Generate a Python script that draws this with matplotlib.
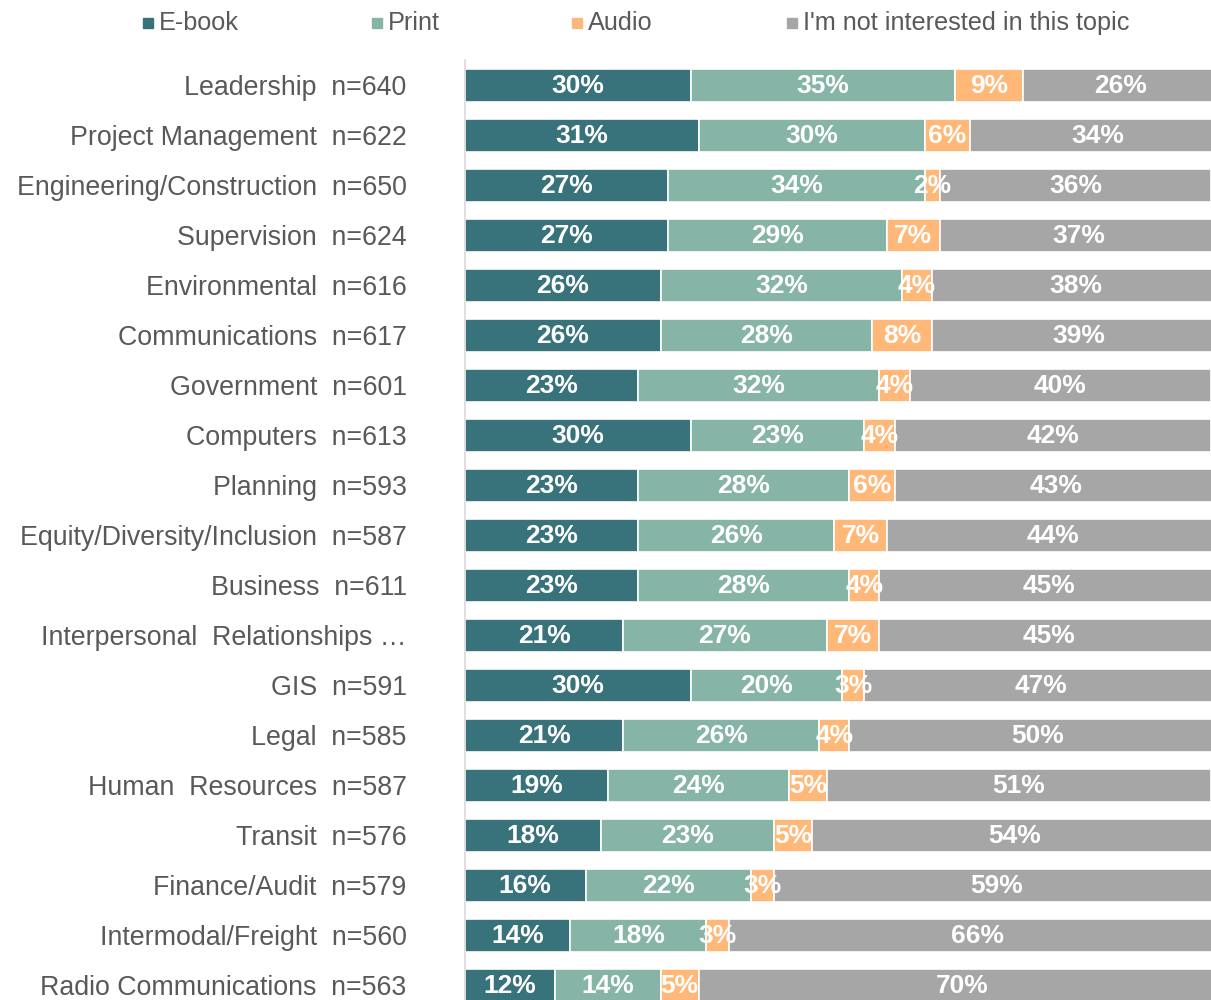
import matplotlib.pyplot as plt
from matplotlib.patches import Rectangle
import numpy as np

plt.rcParams['font.family'] = ['Liberation Sans', 'DejaVu Sans']

topics = ['Leadership  n=640', 'Project Management  n=622',
          'Engineering/Construction  n=650', 'Supervision  n=624',
          'Environmental  n=616', 'Communications  n=617',
          'Government  n=601', 'Computers  n=613', 'Planning  n=593',
          'Equity/Diversity/Inclusion  n=587', 'Business  n=611',
          'Interpersonal  Relationships …', 'GIS  n=591', 'Legal  n=585',
          'Human  Resources  n=587', 'Transit  n=576', 'Finance/Audit  n=579',
          'Intermodal/Freight  n=560', 'Radio Communications  n=563']

ebook = [30, 31, 27, 27, 26, 26, 23, 30, 23, 23, 23, 21, 30, 21, 19, 18, 16, 14, 12]
prnt = [35, 30, 34, 29, 32, 28, 32, 23, 28, 26, 28, 27, 20, 26, 24, 23, 22, 18, 14]
audio = [9, 6, 2, 7, 4, 8, 4, 4, 6, 7, 4, 7, 3, 4, 5, 5, 3, 3, 5]
not_int = [26, 34, 36, 37, 38, 39, 40, 42, 43, 44, 45, 45, 47, 50, 51, 54, 59, 66, 70]

series = ['E-book', 'Print', 'Audio', "I'm not interested in this topic"]
colors = ['#38727A', '#86B4A6', '#FFB878', '#A6A6A6']

fig = plt.figure(figsize=(12.11, 10), dpi=100)
ax = fig.add_axes([465 / 1211, -0.01, 1 - 465 / 1211, 0.95])

y = np.arange(len(topics))
left = np.zeros(len(topics))
for vals, col in zip([ebook, prnt, audio, not_int], colors):
    vals = np.array(vals, dtype=float)
    ax.barh(y, vals, left=left, height=0.66, color=col,
            edgecolor='white', linewidth=1.2)
    for yi, l, v in zip(y, left, vals):
        ax.text(l + v / 2, yi + 0.02, f'{int(v)}%', ha='center', va='center',
                color='white', fontsize=19, fontweight='bold')
    left += vals

ax.set_xlim(0, 99)
ax.set_ylim(len(topics) - 0.5, -0.5)
ax.set_yticks(y)
ax.set_yticklabels(topics, fontsize=19.3, color='#595959')
ax.tick_params(axis='y', length=0, pad=42)
ax.set_xticks([])
for s in ['top', 'right', 'bottom']:
    ax.spines[s].set_visible(False)
ax.spines['left'].set_color('#D9D9D9')
ax.spines['left'].set_linewidth(1.2)

# legend drawn by hand along the top
leg_x = [143, 372, 572, 787]
for x, name, col in zip(leg_x, series, colors):
    fig.patches.append(Rectangle((x / 1211, 1 - 28 / 1000), 10 / 1211, 10 / 1000,
                                 transform=fig.transFigure, color=col))
    fig.text((x + 16) / 1211, 1 - 23 / 1000, name, fontsize=18.2,
             color='#595959', va='center', ha='left')

fig.savefig('out.png', dpi=100)
